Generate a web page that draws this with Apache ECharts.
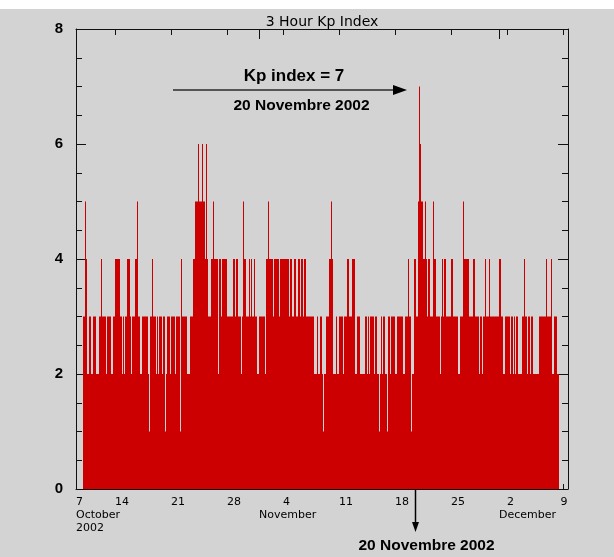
<!DOCTYPE html>
<html><head><meta charset="utf-8">
<script src="https://cdn.jsdelivr.net/npm/echarts@6/dist/echarts.min.js"></script>
<style>html,body{margin:0;padding:0;background:#d3d3d3}#c{width:614px;height:557px}</style>
</head><body><div id="c"></div>
<script>
// 3-hour Kp values, 8 per day, starting 10 Oct 2002 00:00 UT
const octKp = [
 3,3,5,4,2,2,3,3, 2,2,3,3,3,2,2,2, 3,3,4,3,3,3,3,2, 3,3,3,3,2,2,3,3,
 4,4,4,4,4,3,3,2, 3,2,3,3,4,4,4,3, 2,3,3,3,4,4,5,3, 3,2,2,3,3,3,3,3,
 3,2,1,3,3,4,3,3, 3,2,3,2,3,3,3,2, 3,3,1,2,3,3,3,2, 3,3,3,3,2,3,3,3,
 3,1,4,3,3,3,3,3, 2,2,2,3,3,3,4,4, 5,5,5,6,5,5,5,6, 5,5,4,6,4,3,3,3,
 4,4,5,4,4,4,4,2, 4,4,3,4,4,4,4,4, 3,3,3,3,3,3,4,4, 3,4,4,3,3,3,2,3,
 5,4,4,3,3,3,4,3, 4,3,3,4,3,3,2,2
];
const novKp = [
 3,3,3,3,3,3,2,4, 4,5,4,4,4,4,3,4, 4,4,4,4,3,4,4,4, 4,4,4,4,4,4,3,4,
 4,3,3,4,4,3,3,4, 4,3,4,4,3,4,4,3, 3,3,3,3,3,3,3,2, 2,2,3,2,2,3,3,2,
 1,2,2,3,3,3,4,4, 5,4,2,2,2,3,2,2, 3,3,3,3,2,3,3,3, 4,4,3,3,3,4,4,4,
 2,2,3,3,3,2,2,2, 2,2,3,3,2,3,2,3, 3,3,3,2,3,3,2,2, 1,2,3,2,3,3,2,2,
 1,3,3,2,3,3,3,3, 2,2,3,3,3,3,3,3, 2,2,3,3,3,4,3,3, 1,2,2,4,4,3,3,5,
 7,6,5,5,4,4,5,4, 3,4,4,3,3,3,5,4, 4,3,3,3,3,2,3,4, 3,4,4,3,3,3,3,3,
 4,4,3,3,3,3,3,2, 2,3,3,3,5,4,4,4, 4,4,3,3,3,3,4,4, 3,3,3,3,2,3,3,2,
 3,3,4,3,3,3,4,3, 3,3,3,3,3,3,3,3
];
const decKp = [
 4,4,3,3,2,2,3,3, 3,3,3,2,3,3,2,3, 2,3,3,2,2,2,2,3, 3,4,3,3,2,3,3,2,
 3,3,2,2,2,2,2,2, 3,3,3,3,3,3,3,4, 3,3,3,3,4,2,2,3, 3,3,2,2
];
const firstBarDay = 3;          // days after 7 Oct 2002
const barsPerDay = 8;
const weekTickDays = [7,14,21,28,35,42,49,56,63];
const weekTickLabels = ['7','14','21','28','4','11','18','25','2','9'];
const monthTickDays = [25,55];
const monthLabels = ['October\n2002','November','December'];
const titleText = '3 Hour Kp Index';
const peakText = 'Kp index = 7';
const dateText = '20 Novembre 2002';

const X_MIN = 2.125, X_MAX = 63.625;
const weekLabelDays = [X_MIN].concat(weekTickDays.slice(0, -1), [62.69]);
const monthLabelDays = [X_MIN].concat(monthTickDays);

const kp = octKp.concat(novKp, decKp);
const pts = kp.map((v, i) => [firstBarDay + i / barsPerDay, v]);

function pick(days, labels, v) {
  for (let i = 0; i < days.length; i++) if (Math.abs(days[i] - v) < 1e-6) return labels[i];
  return '';
}

const AX = '#111';
const RED = '#cc0000';
const lblFont = {fontFamily: 'DejaVu Sans', fontSize: 11, color: '#000', lineHeight: 13.5};
const baseX = {type: 'value', min: X_MIN, max: X_MAX, splitLine: {show: false}};

const chart = echarts.init(document.getElementById('c'), null, {renderer: 'canvas'});
chart.setOption({
  animation: false,
  backgroundColor: '#d3d3d3',
  grid: {left: 76, top: 29, width: 492, height: 460, containLabel: false},
  xAxis: [
    Object.assign({}, baseX, {
      position: 'bottom',
      axisLine: {show: true, onZero: false, lineStyle: {color: AX, width: 1}},
      axisTick: {show: true, inside: true, length: 5, customValues: weekTickDays, lineStyle: {color: AX}},
      axisLabel: Object.assign({show: true, margin: 6, align: 'left', customValues: weekLabelDays,
        formatter: v => pick(weekLabelDays, weekTickLabels, v)}, lblFont)
    }),
    Object.assign({}, baseX, {
      position: 'top',
      axisLine: {show: true, onZero: false, lineStyle: {color: AX, width: 1}},
      axisTick: {show: true, inside: true, length: 6, customValues: weekTickDays, lineStyle: {color: AX}},
      axisLabel: {show: false}
    }),
    Object.assign({}, baseX, {
      position: 'bottom',
      axisLine: {show: false, onZero: false},
      axisTick: {show: true, inside: true, length: 9, customValues: monthTickDays, lineStyle: {color: AX}},
      axisLabel: Object.assign({show: true, margin: 19, align: 'left', customValues: monthLabelDays,
        formatter: v => pick(monthLabelDays, monthLabels, v)}, lblFont)
    }),
    Object.assign({}, baseX, {
      position: 'top',
      axisLine: {show: false, onZero: false},
      axisTick: {show: true, inside: true, length: 10, customValues: monthTickDays, lineStyle: {color: AX}},
      axisLabel: {show: false}
    })
  ],
  yAxis: [
    {
      type: 'value', min: 0, max: 8, interval: 2, position: 'left',
      splitLine: {show: false},
      axisLine: {show: true, onZero: false, lineStyle: {color: AX, width: 1}},
      axisTick: {show: true, inside: true, length: 10, lineStyle: {color: AX}},
      minorTick: {show: true, splitNumber: 4, length: 6, lineStyle: {color: AX}},
      axisLabel: {show: true, margin: 13, fontFamily: 'Liberation Sans', fontWeight: 'bold', fontSize: 15, color: '#000'}
    },
    {
      type: 'value', min: 0, max: 8, interval: 2, position: 'right',
      splitLine: {show: false},
      axisLine: {show: true, onZero: false, lineStyle: {color: AX, width: 1}},
      axisTick: {show: true, inside: true, length: 10, lineStyle: {color: AX}},
      minorTick: {show: true, splitNumber: 4, length: 6, lineStyle: {color: AX}},
      axisLabel: {show: false}
    }
  ],
  series: [{
    type: 'custom', xAxisIndex: 0, yAxisIndex: 0,
    data: pts, encode: {x: 0, y: 1}, silent: true, z: 1,
    renderItem: function (params, api) {
      const x0 = api.value(0), v = api.value(1);
      const p0 = api.coord([x0, v]);
      const p1 = api.coord([x0 + 1 / barsPerDay, 0]);
      return {type: 'rect', shape: {x: p0[0], y: p0[1], width: p1[0] - p0[0], height: p1[1] - p0[1]},
        style: {fill: RED}};
    }
  }],
  graphic: [
    {type: 'rect', shape: {x: 0, y: 0, width: 614, height: 9}, style: {fill: '#ffffff'}, silent: true},
    {type: 'text', x: 322, y: 22, style: {text: titleText, font: '14px "DejaVu Sans"', fill: '#000', align: 'center', verticalAlign: 'middle'}},
    {type: 'text', x: 294, y: 76, style: {text: peakText, font: 'bold 17px "Liberation Sans"', fill: '#000', align: 'center', verticalAlign: 'middle'}},
    {type: 'line', shape: {x1: 173, y1: 90, x2: 396, y2: 90}, style: {stroke: '#555', lineWidth: 2}},
    {type: 'polygon', shape: {points: [[393, 85], [407, 90], [393, 95]]}, style: {fill: '#000'}},
    {type: 'text', x: 301.5, y: 106, style: {text: dateText, font: 'bold 15.5px "Liberation Sans"', fill: '#000', align: 'center', verticalAlign: 'middle'}},
    {type: 'line', shape: {x1: 415.5, y1: 489, x2: 415.5, y2: 524}, style: {stroke: '#000', lineWidth: 1.5}},
    {type: 'polygon', shape: {points: [[412, 522], [419, 522], [415.5, 532]]}, style: {fill: '#000'}},
    {type: 'text', x: 426.5, y: 546, style: {text: dateText, font: 'bold 15.5px "Liberation Sans"', fill: '#000', align: 'center', verticalAlign: 'middle'}}
  ]
});
</script>
</body></html>
